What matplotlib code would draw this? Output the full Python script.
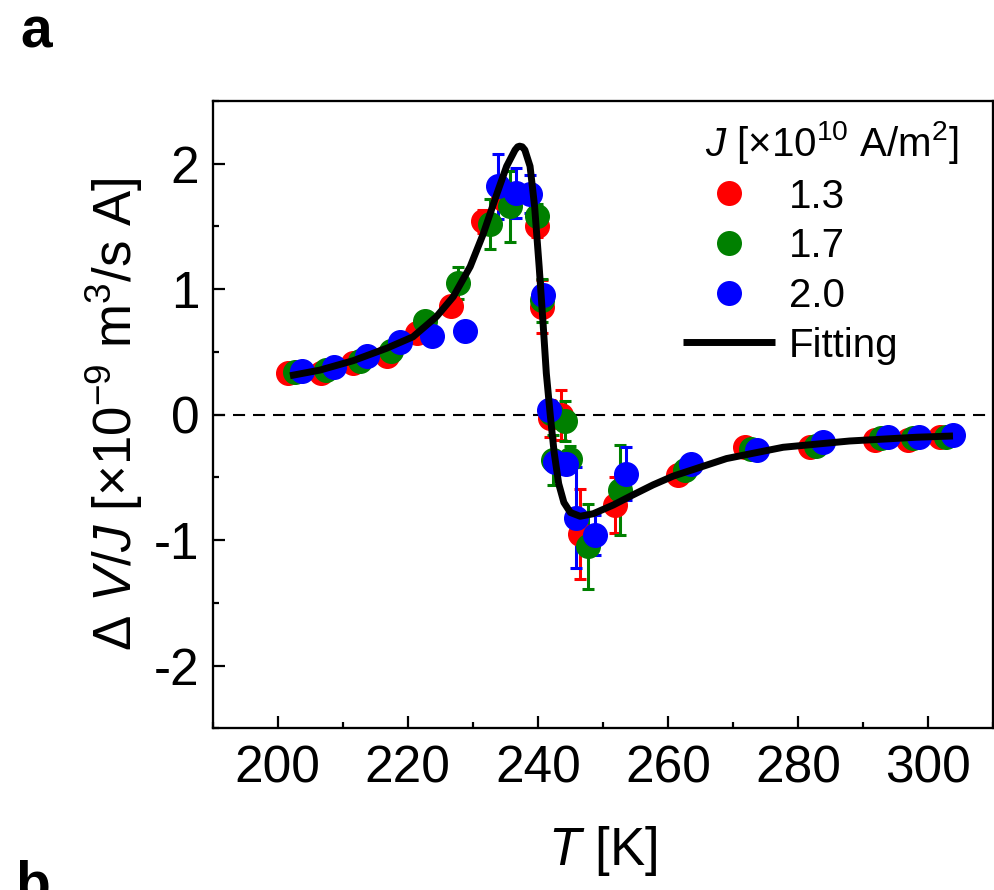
import numpy as np
import matplotlib
matplotlib.use('Agg')
import matplotlib.pyplot as plt
from matplotlib.lines import Line2D
from matplotlib.ticker import MultipleLocator

plt.rcParams['font.family'] = 'Liberation Sans'
plt.rcParams['mathtext.fontset'] = 'custom'
plt.rcParams['mathtext.rm'] = 'Liberation Sans'
plt.rcParams['mathtext.it'] = 'Liberation Sans:italic'
plt.rcParams['mathtext.bf'] = 'Liberation Sans:bold'
plt.rcParams['axes.unicode_minus'] = False

# J = 1.3 x10^10 A/m^2 (red)
T_red = [201.6, 206.6, 211.6, 216.8, 221.5, 226.7, 231.6, 234.7, 239.8, 240.6,
         241.8, 243.6, 246.5, 251.8, 261.6, 271.8, 281.8, 291.8, 296.9, 301.8]
V_red = [0.33, 0.33, 0.41, 0.47, 0.65, 0.87, 1.54, 1.72, 1.50, 0.86,
         -0.03, 0.00, -0.95, -0.72, -0.48, -0.26, -0.26, -0.20, -0.20, -0.18]
E_red = [0, 0, 0, 0, 0, 0, 0.09, 0.10, 0.08, 0.21,
         0.15, 0.20, 0.36, 0.22, 0, 0, 0, 0, 0, 0]

# J = 1.7 (green)
T_green = [202.7, 207.5, 212.7, 217.5, 222.6, 227.8, 232.6, 235.7, 239.8, 240.7,
           242.0, 242.4, 244.2, 244.9, 247.7, 252.6, 262.6, 272.8, 282.8, 292.8,
           297.7, 302.8]
V_green = [0.34, 0.355, 0.43, 0.51, 0.75, 1.05, 1.52, 1.66, 1.58, 0.91,
           0.01, -0.36, -0.05, -0.35, -1.05, -0.60, -0.44, -0.27, -0.25, -0.19,
           -0.19, -0.18]
E_green = [0, 0, 0, 0, 0, 0.13, 0.20, 0.28, 0.10, 0.17,
           0.10, 0.20, 0.16, 0.10, 0.34, 0.36, 0, 0, 0, 0,
           0, 0]

# J = 2.0 (blue)
T_blue = [203.8, 208.7, 213.8, 218.8, 223.8, 228.8, 233.9, 236.7, 238.8, 240.8,
          241.7, 242.6, 244.4, 245.8, 248.8, 253.5, 263.6, 273.7, 283.8, 293.8,
          298.6, 303.8]
V_blue = [0.35, 0.38, 0.47, 0.58, 0.63, 0.67, 1.82, 1.77, 1.76, 0.95,
          0.04, -0.38, -0.39, -0.82, -0.96, -0.47, -0.39, -0.28, -0.22, -0.18,
          -0.18, -0.16]
E_blue = [0, 0, 0, 0, 0, 0, 0.26, 0.20, 0.15, 0.05,
          0, 0, 0, 0.40, 0.16, 0.21, 0, 0, 0, 0,
          0, 0]

# fitting curve
T_fit = [201.9, 206.5, 211.6, 216.8, 220.8, 224.4, 227.0, 229.6, 231.6, 233.7,
         235.2, 236.5, 236.9, 237.2, 237.6, 238.0, 238.8, 239.5, 240.2, 240.8,
         241.3, 241.9, 242.5, 243.2, 244.0, 245.0, 246.5, 248.5, 251.6, 254.6,
         257.7, 260.8, 264.9, 269.0, 277.7, 287.9, 298.2, 303.8]
V_fit = [0.31, 0.355, 0.43, 0.53, 0.62, 0.78, 0.94, 1.18, 1.44, 1.76,
         1.98, 2.11, 2.135, 2.14, 2.135, 2.11, 1.98, 1.66, 1.18, 0.73,
         0.33, 0.00, -0.30, -0.55, -0.70, -0.78, -0.81, -0.79, -0.72, -0.64,
         -0.56, -0.49, -0.42, -0.35, -0.26, -0.21, -0.18, -0.17]

J_labels = ['1.3', '1.7', '2.0']
colors = ['red', 'green', 'blue']

fig = plt.figure(figsize=(9.95, 8.9), dpi=100, facecolor='white')
ax = fig.add_axes([0.2136, 0.1817, 0.7847, 0.7048])

ax.axhline(0, color='black', lw=1.5, ls=(0, (5.8, 3.8)), zorder=1)

series = [(T_red, V_red, E_red), (T_green, V_green, E_green), (T_blue, V_blue, E_blue)]
for (T, V, E), c in zip(series, colors):
    ax.errorbar(T, V, yerr=E, fmt='o', color=c, ms=17, markeredgecolor=c,
                elinewidth=2.2, capsize=4.5, capthick=2.2, zorder=3)

ax.plot(T_fit, V_fit, color='black', lw=5, solid_capstyle='butt',
        solid_joinstyle='round', zorder=5)

ax.set_xlim(190, 310)
ax.set_ylim(-2.5, 2.5)
ax.xaxis.set_major_locator(MultipleLocator(20))
ax.xaxis.set_minor_locator(MultipleLocator(10))
ax.yaxis.set_major_locator(MultipleLocator(1))
ax.yaxis.set_minor_locator(MultipleLocator(0.5))
ax.tick_params(which='both', direction='in', width=1.6, labelsize=37)
ax.tick_params(which='major', length=8.5)
ax.tick_params(which='minor', length=4.5)
ax.tick_params(axis='x', pad=11.5)
ax.tick_params(axis='y', pad=9.5)
for s in ax.spines.values():
    s.set_linewidth(1.65)

ax.set_xlabel(r'$T$ [K]', fontsize=38, labelpad=22)
ax.set_ylabel(r'$\Delta$ $V/J$ [×10$^{-9}$ m$^3$/s A]', fontsize=38, labelpad=6)

handles = [Line2D([], [], ls='none', marker='o', ms=18, mew=0, color=c) for c in colors]
handles.append(Line2D([], [], color='black', lw=5, solid_capstyle='butt'))
ax.legend(handles, J_labels + ['Fitting'], loc='upper left',
          bbox_to_anchor=(0.6026, 0.878), frameon=False, fontsize=29,
          borderpad=0, borderaxespad=0, handlelength=2.29,
          handletextpad=0.33, labelspacing=0.29)
fig.text(0.7085, 0.8247, r'$J$ [×10$^{10}$ A/m$^2$]', fontsize=29,
         ha='left', va='baseline')

fig.text(0.02, 1 - 47 / 890, 'a', fontsize=41, fontweight='bold', va='baseline')
fig.text(0.015, 1 - 902 / 890, 'b', fontsize=41, fontweight='bold', va='baseline')

fig.savefig('out.png', dpi=100)
